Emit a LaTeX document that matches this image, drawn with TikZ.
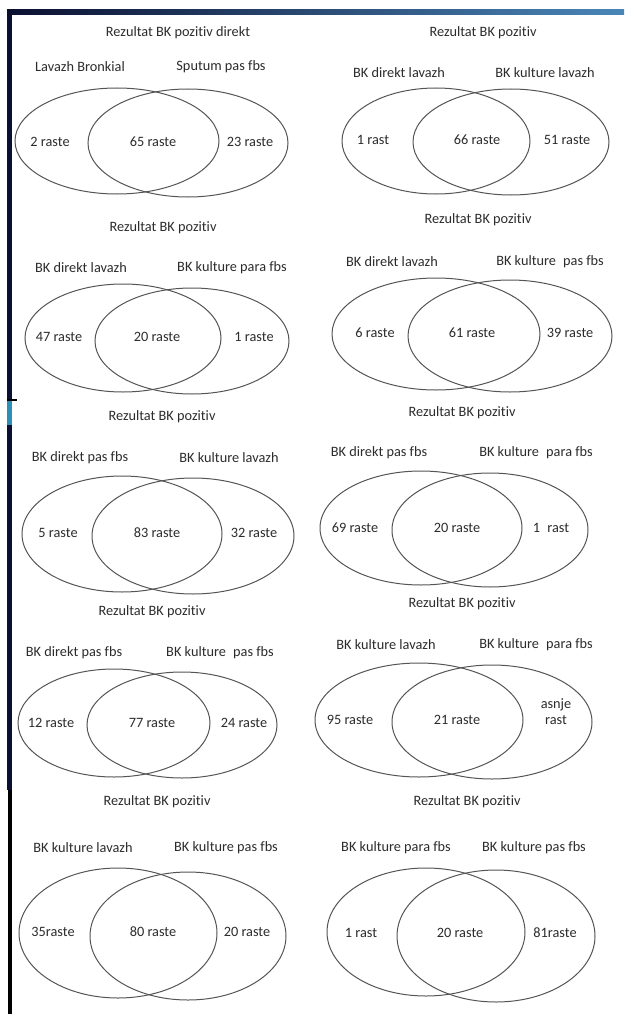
\documentclass[tikz,border=0pt]{standalone}
\usepackage{fontspec}
\setmainfont{Carlito}[Ligatures=NoCommon]
\usetikzlibrary{shapes.geometric}
\definecolor{txt}{HTML}{2C2C2C}
\definecolor{ln}{HTML}{555555}
\definecolor{navy}{HTML}{0B1030}
\definecolor{barblue}{HTML}{4A86B8}
\definecolor{cyanbit}{HTML}{2C8FB8}
\tikzset{
  lbl/.style={text=txt, font=\fontsize{14.3}{16}\selectfont, inner sep=0pt, align=center},
  venn/.style={ellipse, draw=ln, line width=1pt, inner sep=0pt, outer sep=0pt},
}
\newcommand{\setA}[5]{% name, x, y, rx, ry
  \node[venn, minimum width=#4*2pt, minimum height=#5*2pt] (#1) at (#2,#3) {};}
\begin{document}
\begin{tikzpicture}[x=1pt,y=-1pt]
\useasboundingbox (0,0) rectangle (624,1014);
\fill[white] (0,0) rectangle (624,1014);
% frame decorations
\shade[left color=navy, right color=barblue] (7,10) rectangle (624,15);
\fill[navy] (7,10) rectangle (12,400);
\fill[black] (7,399) rectangle (17,401);
\fill[cyanbit] (7,401) rectangle (12,425);
\fill[navy] (7,425) rectangle (12,790);
\fill[black] (8,790) rectangle (12,1014);

% ---------- Diagram 1 ----------
\node[lbl] (t1) at (178,33) {Rezultat BK pozitiv direkt};
\node[lbl] (l1) at (80,67) {Lavazh Bronkial};
\node[lbl] (r1) at (221,67) {Sputum pas fbs};
\setA{a1}{117}{141}{102}{53}
\setA{b1}{188}{143}{100}{54}
\node[lbl] (n1a) at (50,142) {2 raste};
\node[lbl] (n1b) at (153,142) {65 raste};
\node[lbl] (n1c) at (250,142) {23 raste};

% ---------- Diagram 2 ----------
\node[lbl] (t2) at (483,33) {Rezultat BK pozitiv};
\node[lbl] (l2) at (399,73) {BK direkt lavazh};
\node[lbl] (r2) at (545,73) {BK kulture lavazh};
\setA{a2}{436}{141}{94}{53}
\setA{b2}{511}{142}{98}{53}
\node[lbl] (n2a) at (373,140) {1 rast};
\node[lbl] (n2b) at (477,140) {66 raste};
\node[lbl] (n2c) at (567,140) {51 raste};

% ---------- Diagram 3 ----------
\node[lbl] (t3) at (163,228) {Rezultat BK pozitiv};
\node[lbl] (l3) at (81,268) {BK direkt lavazh};
\node[lbl] (r3) at (232,268) {BK kulture para fbs};
\setA{a3}{123}{338}{98}{54}
\setA{b3}{192}{341}{97}{53}
\node[lbl] (n3a) at (59,337) {47 raste};
\node[lbl] (n3b) at (157,337) {20 raste};
\node[lbl] (n3c) at (254,337) {1 raste};

% ---------- Diagram 4 ----------
\node[lbl] (t4) at (478,220) {Rezultat BK pozitiv};
\node[lbl] (l4) at (392,262) {BK direkt lavazh};
\node[lbl] (r4) at (550,262) {BK kulture\enspace pas fbs};
\setA{a4}{436}{334}{104}{56}
\setA{b4}{510}{336}{102}{56}
\node[lbl] (n4a) at (375,333) {6 raste};
\node[lbl] (n4b) at (472,333) {61 raste};
\node[lbl] (n4c) at (570,333) {39 raste};

% ---------- Diagram 5 ----------
\node[lbl] (t5) at (162,417) {Rezultat BK pozitiv};
\node[lbl] (l5) at (80,458) {BK direkt pas fbs};
\node[lbl] (r5) at (229,458) {BK kulture lavazh};
\setA{a5}{122}{534}{100}{58}
\setA{b5}{193}{536}{101}{58}
\node[lbl] (n5a) at (58,533) {5 raste};
\node[lbl] (n5b) at (157,533) {83 raste};
\node[lbl] (n5c) at (254,533) {32 raste};

% ---------- Diagram 6 ----------
\node[lbl] (t6) at (462,413) {Rezultat BK pozitiv};
\node[lbl] (l6) at (379,453) {BK direkt pas fbs};
\node[lbl] (r6) at (536,453) {BK kulture\enspace para fbs};
\setA{a6}{421}{528}{101}{57}
\setA{b6}{490}{530}{98}{57}
\node[lbl] (n6a) at (355,528) {69 raste};
\node[lbl] (n6b) at (457,528) {20 raste};
\node[lbl] (n6c) at (551,528) {1\enspace rast};

% ---------- Diagram 7 ----------
\node[lbl] (t7) at (152,612) {Rezultat BK pozitiv};
\node[lbl] (l7) at (74,653) {BK direkt pas fbs};
\node[lbl] (r7) at (220,653) {BK kulture\enspace pas fbs};
\setA{a7}{114}{723}{96}{54}
\setA{b7}{182}{725}{95}{53}
\node[lbl] (n7a) at (51,723) {12 raste};
\node[lbl] (n7b) at (152,723) {77 raste};
\node[lbl] (n7c) at (244,723) {24 raste};

% ---------- Diagram 8 ----------
\node[lbl] (t8) at (462,604) {Rezultat BK pozitiv};
\node[lbl] (l8) at (386,645) {BK kulture lavazh};
\node[lbl] (r8) at (536,645) {BK kulture\enspace para fbs};
\setA{a8}{419}{720}{104}{57}
\setA{b8}{492}{722}{100}{57}
\node[lbl] (n8a) at (350,720) {95 raste};
\node[lbl] (n8b) at (457,720) {21 raste};
\node[lbl] (n8c) at (556,712) {asnje\\rast};

% ---------- Diagram 9 ----------
\node[lbl] (t9) at (157,802) {Rezultat BK pozitiv};
\node[lbl] (l9) at (83,848) {BK kulture lavazh};
\node[lbl] (r9) at (226,848) {BK kulture pas fbs};
\setA{a9}{118}{933}{99}{65}
\setA{b9}{188}{936}{98}{64}
\node[lbl] (n9a) at (53,932) {35raste};
\node[lbl] (n9b) at (153,932) {80 raste};
\node[lbl] (n9c) at (247,932) {20 raste};

% ---------- Diagram 10 ----------
\node[lbl] (t10) at (467,802) {Rezultat BK pozitiv};
\node[lbl] (l10) at (396,848) {BK kulture para fbs};
\node[lbl] (r10) at (534,848) {BK kulture pas fbs};
\setA{a10}{426}{932}{99}{64}
\setA{b10}{496}{936}{99}{66}
\node[lbl] (n10a) at (361,933) {1 rast};
\node[lbl] (n10b) at (460,933) {20 raste};
\node[lbl] (n10c) at (555,933) {81raste};
\end{tikzpicture}
\end{document}
